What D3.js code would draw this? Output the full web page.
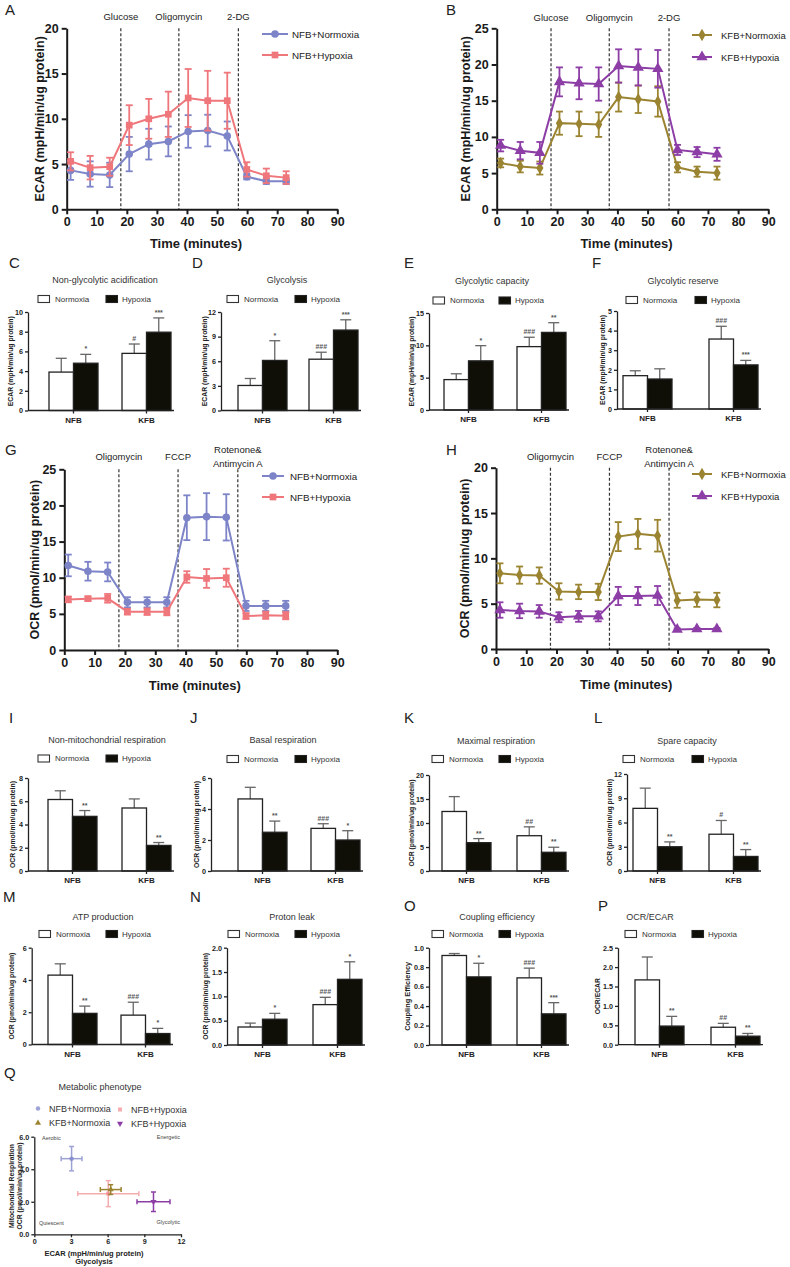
<!DOCTYPE html>
<html><head><meta charset="utf-8">
<script src="https://cdn.jsdelivr.net/npm/d3@7"></script>
<style>
body{margin:0;background:#fff;}
svg{display:block;font-family:"Liberation Sans",Arial,Helvetica,sans-serif;}
</style></head><body>
<svg id="fig" width="790" height="1267"></svg>
<script>
// ================= DATA =================
const timePoints = [1.3, 7.8, 14.3, 20.8, 27.3, 33.8, 40.4, 46.9, 53.4, 59.9, 66.4, 73.0];
const timeTicks = [0, 10, 20, 30, 40, 50, 60, 70, 80, 90];
const ecarInjections = ["Glucose", "Oligomycin", "2-DG"];
const ecarInjectionTimes = [18, 37.3, 57.1];
const ocrInjections = ["Oligomycin", "FCCP", "Rotenone&\nAntimycin A"];
const ocrInjectionTimes = [18, 37.5, 57.2];

const ecarNfbNormoxia = [4.3, 3.9, 3.8, 6.1, 7.2, 7.5, 8.6, 8.7, 8.1, 3.6, 3.1, 3.1];
const ecarNfbNormoxiaErr = [1.05, 1.4, 1.35, 1.9, 1.7, 1.65, 1.8, 1.75, 1.6, 0.3, 0.3, 0.3];
const ecarNfbHypoxia = [5.3, 4.6, 4.7, 9.3, 10.0, 10.5, 12.3, 12.0, 12.0, 4.4, 3.7, 3.5];
const ecarNfbHypoxiaErr = [1.0, 1.3, 1.0, 2.2, 2.2, 2.5, 3.2, 3.3, 3.1, 0.8, 0.8, 0.7];
const ecarKfbNormoxia = [6.4, 5.9, 5.7, 11.9, 11.8, 11.7, 15.5, 15.2, 14.9, 5.8, 5.2, 5.0];
const ecarKfbNormoxiaErr = [0.6, 0.8, 0.9, 1.6, 1.7, 1.7, 2.0, 1.9, 2.1, 0.7, 0.7, 0.9];
const ecarKfbHypoxia = [8.8, 8.1, 7.8, 17.6, 17.4, 17.3, 19.8, 19.6, 19.4, 8.2, 7.9, 7.6];
const ecarKfbHypoxiaErr = [0.8, 1.2, 1.5, 2.0, 2.2, 2.3, 2.3, 2.5, 2.6, 0.7, 0.7, 0.9];

const ocrNfbNormoxia = [11.7, 10.9, 10.8, 6.6, 6.6, 6.6, 18.3, 18.45, 18.35, 6.1, 6.1, 6.1];
const ocrNfbNormoxiaErr = [1.5, 1.3, 1.3, 0.7, 0.7, 0.7, 3.1, 3.25, 3.2, 0.7, 0.7, 0.7];
const ocrNfbHypoxia = [7.0, 7.1, 7.15, 5.3, 5.3, 5.3, 10.1, 9.9, 10.0, 4.7, 4.8, 4.75];
const ocrNfbHypoxiaErr = [0.4, 0.3, 0.6, 0.4, 0.45, 0.5, 0.8, 1.3, 1.25, 0.4, 0.5, 0.5];
const ocrKfbNormoxia = [8.35, 8.15, 8.1, 6.35, 6.3, 6.3, 12.4, 12.7, 12.5, 5.35, 5.45, 5.4];
const ocrKfbNormoxiaErr = [1.1, 0.95, 0.9, 0.9, 0.8, 0.9, 1.6, 1.65, 1.75, 0.8, 0.8, 0.8];
const ocrKfbHypoxia = [4.3, 4.2, 4.15, 3.5, 3.6, 3.6, 5.85, 5.85, 5.9, 2.15, 2.2, 2.2];
const ocrKfbHypoxiaErr = [0.85, 0.8, 0.7, 0.55, 0.6, 0.55, 1.0, 1.0, 1.05, 0.12, 0.12, 0.12];

const barGroups = ["NFB", "KFB"];
const barConds = ["Normoxia", "Hypoxia"];

// C  Non-glycolytic acidification
const nonGlycoNorm = [3.9, 5.8], nonGlycoNormErr = [1.4, 0.95], nonGlycoNormSig = ["", "#"];
const nonGlycoHyp = [4.8, 7.95], nonGlycoHypErr = [0.9, 1.45], nonGlycoHypSig = ["*", "***"];
const nonGlycoTicks = [0, 2, 4, 6, 8, 10];
// D  Glycolysis
const glycoNorm = [3.05, 6.25], glycoNormErr = [0.85, 0.85], glycoNormSig = ["", "###"];
const glycoHyp = [6.1, 9.8], glycoHypErr = [2.4, 1.25], glycoHypSig = ["*", "***"];
const glycoTicks = [0, 3, 6, 9, 12];
// E  Glycolytic capacity
const capNorm = [4.7, 9.8], capNormErr = [0.9, 1.45], capNormSig = ["", "###"];
const capHyp = [7.6, 12.0], capHypErr = [2.35, 1.5], capHypSig = ["*", "**"];
const capTicks = [0, 5, 10, 15];
// F  Glycolytic reserve
const resNorm = [1.7, 3.57], resNormErr = [0.25, 0.65], resNormSig = ["", "###"];
const resHyp = [1.53, 2.25], resHypErr = [0.52, 0.23], resHypSig = ["", "***"];
const resTicks = [0, 1, 2, 3, 4, 5];
// I  Non-mitochondrial respiration
const nonMitoNorm = [6.15, 5.42], nonMitoNormErr = [0.75, 0.78], nonMitoNormSig = ["", ""];
const nonMitoHyp = [4.7, 2.2], nonMitoHypErr = [0.5, 0.25], nonMitoHypSig = ["**", "**"];
const nonMitoTicks = [0, 2, 4, 6, 8];
// J  Basal respiration
const basalNorm = [4.65, 2.75], basalNormErr = [0.75, 0.3], basalNormSig = ["", "###"];
const basalHyp = [2.5, 2.0], basalHypErr = [0.72, 0.6], basalHypSig = ["**", "*"];
const basalTicks = [0, 2, 4, 6];
// K  Maximal respiration
const maxNorm = [12.4, 7.35], maxNormErr = [3.1, 1.85], maxNormSig = ["", "##"];
const maxHyp = [5.9, 3.9], maxHypErr = [0.85, 1.05], maxHypSig = ["**", "**"];
const maxTicks = [0, 5, 10, 15, 20];
// L  Spare capacity
const spareNorm = [7.75, 4.55], spareNormErr = [2.5, 1.7], spareNormSig = ["", "#"];
const spareHyp = [3.0, 1.8], spareHypErr = [0.6, 0.85], spareHypSig = ["**", "**"];
const spareTicks = [0, 3, 6, 9, 12];
// M  ATP production
const atpNorm = [4.3, 1.82], atpNormErr = [0.7, 0.8], atpNormSig = ["", "###"];
const atpHyp = [1.93, 0.68], atpHypErr = [0.45, 0.32], atpHypSig = ["**", "*"];
const atpTicks = [0, 2, 4, 6];
// N  Proton leak
const leakNorm = [0.37, 0.83], leakNormErr = [0.08, 0.15], leakNormSig = ["", "###"];
const leakHyp = [0.53, 1.35], leakHypErr = [0.12, 0.36], leakHypSig = ["*", "*"];
const leakTicks = [0, 0.5, 1.0, 1.5, 2.0];
// O  Coupling efficiency
const coupNorm = [0.92, 0.69], coupNormErr = [0.02, 0.1], coupNormSig = ["", "###"];
const coupHyp = [0.70, 0.32], coupHypErr = [0.14, 0.115], coupHypSig = ["*", "***"];
const coupTicks = [0, 0.2, 0.4, 0.6, 0.8, 1.0];
// P  OCR/ECAR
const ratioNorm = [1.67, 0.45], ratioNormErr = [0.59, 0.1], ratioNormSig = ["", "##"];
const ratioHyp = [0.48, 0.22], ratioHypErr = [0.25, 0.07], ratioHypSig = ["**", "**"];
const ratioTicks = [0, 0.5, 1.0, 1.5, 2.0, 2.5];

// Q  Metabolic phenotype
const phenoNames = ["NFB+Normoxia", "NFB+Hypoxia", "KFB+Normoxia", "KFB+Hypoxia"];
const phenoEcar = [3.05, 6.05, 6.25, 9.75];
const phenoEcarErr = [0.85, 2.5, 0.85, 1.35];
const phenoOcr = [4.65, 2.5, 2.75, 2.0];
const phenoOcrErr = [0.75, 0.8, 0.3, 0.6];
const phenoXTicks = [0, 3, 6, 9, 12];
const phenoYTicks = [0, 2, 4, 6];

// ================= STYLE =================
const FONT = '"Liberation Sans", Arial, Helvetica, sans-serif';
const colNfbN = "#7d84c8", colNfbH = "#ef767b", colKfbN = "#9b8431", colKfbH = "#8d3ea6";
const AX = "#1a1a1a";

const svg = d3.select("#fig");

function txt(g, x, y, s, o = {}) {
  const t = g.append("text").attr("x", x).attr("y", y).text(s)
    .attr("font-size", o.size || 10).attr("font-weight", o.weight || "normal")
    .attr("text-anchor", o.anchor || "start").attr("fill", o.fill || "#222")
    .attr("font-family", FONT);
  if (o.baseline) t.attr("dominant-baseline", o.baseline);
  if (o.rotate) t.attr("transform", `rotate(-90,${x},${y})`);
  return t;
}

function styleAxis(a, size, sw, color) {
  a.attr("font-family", FONT);
  a.selectAll("path,line").attr("stroke", color || AX).attr("stroke-width", sw);
  a.selectAll("text").attr("font-size", size).attr("font-weight", "bold").attr("fill", color || AX);
}

// ================= LINE PANELS =================
function linePanel(L, seriesList, injNames, injTimes) {
  const g = svg.append("g");
  const x = d3.scaleLinear().domain([0, 90]).range(L.xr);
  const y = d3.scaleLinear().domain([0, L.yMax]).range(L.yr);

  txt(g, L.letter[0], L.letter[1], L.letterText, {size: 15, fill: "#222"});

  injTimes.forEach((t, i) => {
    g.append("line").attr("x1", x(t)).attr("x2", x(t)).attr("y1", y(L.yMax)).attr("y2", y(0))
      .attr("stroke", "#333").attr("stroke-width", 1.2).attr("stroke-dasharray", "3,2");
    const lines = injNames[i].split("\n");
    const y0 = lines.length === 1 ? L.injY : L.injY2;
    lines.forEach((s, j) => txt(g, x(t), y0 + j * 13.5, s, {size: 9.5, anchor: "middle", fill: "#222"}));
  });

  const ya = g.append("g").attr("transform", `translate(${L.xr[0]},0)`)
    .call(d3.axisLeft(y).tickValues(d3.range(0, L.yMax + 0.001, L.yStep)).tickSize(5).tickSizeOuter(0).tickPadding(3));
  const xa = g.append("g").attr("transform", `translate(0,${L.yr[0]})`)
    .call(d3.axisBottom(x).tickValues(timeTicks).tickSize(5).tickSizeOuter(0).tickPadding(3));
  styleAxis(ya, 12.5, 2);
  styleAxis(xa, 12.5, 2);

  txt(g, L.yTitleX, (L.yr[0] + L.yr[1]) / 2, L.yTitle, {size: 12.5, weight: "bold", anchor: "middle", baseline: "central", rotate: true, fill: AX});
  txt(g, (L.xr[0] + L.xr[1]) / 2 - 6, L.xTitleY, "Time (minutes)", {size: 13, weight: "bold", anchor: "middle", fill: AX});

  seriesList.forEach(s => {
    const pts = timePoints.map((t, i) => ({t, v: s.values[i], e: s.errs[i]}));
    const eb = g.append("g").attr("stroke", s.color).attr("stroke-width", 1.8);
    pts.forEach(p => {
      eb.append("line").attr("x1", x(p.t)).attr("x2", x(p.t)).attr("y1", y(p.v - p.e)).attr("y2", y(p.v + p.e));
      [p.v - p.e, p.v + p.e].forEach(v => eb.append("line")
        .attr("x1", x(p.t) - 3.5).attr("x2", x(p.t) + 3.5).attr("y1", y(v)).attr("y2", y(v)));
    });
    g.append("path").datum(pts).attr("d", d3.line().x(p => x(p.t)).y(p => y(p.v)))
      .attr("fill", "none").attr("stroke", s.color).attr("stroke-width", 2);
    g.selectAll(null).data(pts).enter().append("path")
      .attr("transform", p => `translate(${x(p.t)},${y(p.v)})`)
      .attr("d", d3.symbol().type(s.symbol).size(s.size)).attr("fill", s.color);
  });

  seriesList.forEach((s, i) => {
    const ly = L.legY[i];
    g.append("line").attr("x1", L.legX[0]).attr("x2", L.legX[1]).attr("y1", ly).attr("y2", ly)
      .attr("stroke", s.color).attr("stroke-width", 2);
    g.append("path").attr("transform", `translate(${(L.legX[0] + L.legX[1]) / 2},${ly})`)
      .attr("d", d3.symbol().type(s.symbol).size(s.size)).attr("fill", s.color);
    txt(g, L.legX[2], ly, s.name, {size: L.legSize || 9.8, baseline: "central", fill: "#222"});
  });
}

linePanel({letterText: "A", letter: [5, 15], xr: [66.7, 337.3], yr: [209.3, 28.3], yMax: 20, yStep: 5,
  yTitle: "ECAR (mpH/min/ug protein)", yTitleX: 40, xTitleY: 248, injY: 19.5,
  legX: [262, 288, 292], legY: [34, 55]},
  [{name: "NFB+Normoxia", values: ecarNfbNormoxia, errs: ecarNfbNormoxiaErr, color: colNfbN, symbol: d3.symbolCircle, size: 45},
   {name: "NFB+Hypoxia", values: ecarNfbHypoxia, errs: ecarNfbHypoxiaErr, color: colNfbH, symbol: d3.symbolSquare, size: 45}],
  ecarInjections, ecarInjectionTimes);

linePanel({letterText: "B", letter: [446, 15], xr: [496.7, 768.3], yr: [209.3, 28.3], yMax: 25, yStep: 5,
  yTitle: "ECAR (mpH/min/ug protein)", yTitleX: 466, xTitleY: 248, injY: 20.5,
  legX: [692, 712, 721], legY: [35, 57], legSize: 9.5},
  [{name: "KFB+Normoxia", values: ecarKfbNormoxia, errs: ecarKfbNormoxiaErr, color: colKfbN, symbol: d3.symbolDiamond, size: 45},
   {name: "KFB+Hypoxia", values: ecarKfbHypoxia, errs: ecarKfbHypoxiaErr, color: colKfbH, symbol: d3.symbolTriangle, size: 55}],
  ecarInjections, ecarInjectionTimes);

linePanel({letterText: "G", letter: [5, 455], xr: [64.3, 337.3], yr: [650, 469.3], yMax: 25, yStep: 5,
  yTitle: "OCR (pmol/min/ug protein)", yTitleX: 35, xTitleY: 690, injY: 460, injY2: 453,
  legX: [262, 284, 290], legY: [476, 497]},
  [{name: "NFB+Normoxia", values: ocrNfbNormoxia, errs: ocrNfbNormoxiaErr, color: colNfbN, symbol: d3.symbolCircle, size: 45},
   {name: "NFB+Hypoxia", values: ocrNfbHypoxia, errs: ocrNfbHypoxiaErr, color: colNfbH, symbol: d3.symbolSquare, size: 45}],
  ocrInjections, ocrInjectionTimes);

linePanel({letterText: "H", letter: [446, 455], xr: [496, 768.3], yr: [649, 467.7], yMax: 20, yStep: 5,
  yTitle: "OCR (pmol/min/ug protein)", yTitleX: 465, xTitleY: 689, injY: 460, injY2: 453,
  legX: [692, 712, 721], legY: [474, 496], legSize: 9.5},
  [{name: "KFB+Normoxia", values: ocrKfbNormoxia, errs: ocrKfbNormoxiaErr, color: colKfbN, symbol: d3.symbolDiamond, size: 45},
   {name: "KFB+Hypoxia", values: ocrKfbHypoxia, errs: ocrKfbHypoxiaErr, color: colKfbH, symbol: d3.symbolTriangle, size: 55}],
  ocrInjections, ocrInjectionTimes);

// ================= BAR PANELS =================
function barPanel(P, D) {
  const g = svg.append("g");
  const max = D.ticks[D.ticks.length - 1];
  const y = d3.scaleLinear().domain([0, max]).range([P.yBot, P.yTop]);
  const R = P.gx[1] - P.gx[0], bw = 49;
  const xg = d3.scaleBand().domain(barGroups).range(P.gx).paddingInner((R - 2 * bw) / (R - bw)).paddingOuter(0);
  const xc = d3.scaleBand().domain(barConds).range([0, xg.bandwidth()]);

  txt(g, P.letter[0], P.letter[1], P.letterText, {size: 15, fill: "#222"});
  txt(g, P.title[0], P.title[1], P.titleText, {size: 9, anchor: "middle", fill: "#333"});

  g.append("rect").attr("x", P.leg[0]).attr("y", P.legY - 3.5).attr("width", 11.5).attr("height", 7)
    .attr("fill", "#fff").attr("stroke", "#333").attr("stroke-width", 1.1);
  txt(g, P.leg[0] + 17, P.legY, "Normoxia", {size: 8, baseline: "central", fill: "#333"});
  g.append("rect").attr("x", P.leg[1]).attr("y", P.legY - 3.5).attr("width", 11.5).attr("height", 7)
    .attr("fill", "#0f0f08").attr("stroke", "#222").attr("stroke-width", 1.1);
  txt(g, P.leg[1] + 16, P.legY, "Hypoxia", {size: 8, baseline: "central", fill: "#333"});

  barGroups.forEach((grp, gi) => {
    barConds.forEach((cond, ci) => {
      const v = D.values[ci][gi], e = D.errs[ci][gi], sig = D.sigs[ci][gi];
      const x0 = xg(grp) + xc(cond), w = xc.bandwidth(), cx = x0 + w / 2;
      g.append("line").attr("x1", cx).attr("x2", cx).attr("y1", y(v)).attr("y2", y(v + e))
        .attr("stroke", "#666").attr("stroke-width", 1.3);
      g.append("line").attr("x1", cx - 5.5).attr("x2", cx + 5.5).attr("y1", y(v + e)).attr("y2", y(v + e))
        .attr("stroke", "#666").attr("stroke-width", 1.3);
      g.append("rect").attr("x", x0).attr("y", y(v)).attr("width", w).attr("height", y(0) - y(v))
        .attr("fill", ci ? "#0f0f08" : "#fff").attr("stroke", "#222").attr("stroke-width", 1.3);
      if (sig) txt(g, cx, y(v + e) - 3, sig, {size: 7, anchor: "middle", fill: "#555", weight: "bold"});
    });
  });

  const ya = g.append("g").attr("transform", `translate(${P.axisX},0)`)
    .call(d3.axisLeft(y).tickValues(D.ticks).tickSize(3).tickSizeOuter(0).tickPadding(2).tickFormat(D.fmt));
  styleAxis(ya, 7.2, 1.3, "#222");
  g.append("line").attr("x1", P.axisX).attr("x2", P.gx[1] + 3).attr("y1", P.yBot).attr("y2", P.yBot)
    .attr("stroke", "#222").attr("stroke-width", 1.3);
  barGroups.forEach(grp => {
    const cx = xg(grp) + xg.bandwidth() / 2;
    g.append("line").attr("x1", cx).attr("x2", cx).attr("y1", P.yBot).attr("y2", P.yBot + 3)
      .attr("stroke", "#222").attr("stroke-width", 1.3);
    txt(g, cx, P.yBot + 12, grp, {size: 8, weight: "bold", anchor: "middle", fill: "#222"});
  });
  txt(g, P.yTitleX, (P.yTop + P.yBot) / 2, P.yTitle, {size: P.yTitleSize || 6.8, weight: "bold", anchor: "middle", baseline: "central", rotate: true, fill: "#222"});
}

const fInt = d3.format("d"), f1 = d3.format(".1f");
const ECARU = "ECAR (mpH/min/ug protein)", OCRU = "OCR (pmol/min/ug protein)";

barPanel({letterText: "C", letter: [9, 268], title: [105, 283], titleText: "Non-glycolytic acidification",
  legY: 299, leg: [38, 106], axisX: 28, gx: [49, 171], yTop: 312, yBot: 410.5, yTitleX: 10.5, yTitle: ECARU},
  {values: [nonGlycoNorm, nonGlycoHyp], errs: [nonGlycoNormErr, nonGlycoHypErr], sigs: [nonGlycoNormSig, nonGlycoHypSig], ticks: nonGlycoTicks, fmt: fInt});
barPanel({letterText: "D", letter: [192, 268], title: [287, 283], titleText: "Glycolysis",
  legY: 299, leg: [227, 295], axisX: 221, gx: [238, 358], yTop: 312, yBot: 410.5, yTitleX: 204, yTitle: ECARU},
  {values: [glycoNorm, glycoHyp], errs: [glycoNormErr, glycoHypErr], sigs: [glycoNormSig, glycoHypSig], ticks: glycoTicks, fmt: fInt});
barPanel({letterText: "E", letter: [404, 268], title: [492, 284], titleText: "Glycolytic capacity",
  legY: 300.5, leg: [433, 499], axisX: 429, gx: [444, 566], yTop: 313, yBot: 410, yTitleX: 411.5, yTitle: ECARU},
  {values: [capNorm, capHyp], errs: [capNormErr, capHypErr], sigs: [capNormSig, capHypSig], ticks: capTicks, fmt: fInt});
barPanel({letterText: "F", letter: [592, 268], title: [683, 284], titleText: "Glycolytic reserve",
  legY: 300, leg: [626, 695], axisX: 617, gx: [623, 758], yTop: 311, yBot: 409, yTitleX: 602, yTitle: ECARU},
  {values: [resNorm, resHyp], errs: [resNormErr, resHypErr], sigs: [resNormSig, resHypSig], ticks: resTicks, fmt: fInt});

barPanel({letterText: "I", letter: [9, 723], title: [107, 743], titleText: "Non-mitochondrial respiration",
  legY: 758.5, leg: [38, 106], axisX: 28, gx: [48, 171], yTop: 778, yBot: 871, yTitleX: 12, yTitle: OCRU},
  {values: [nonMitoNorm, nonMitoHyp], errs: [nonMitoNormErr, nonMitoHypErr], sigs: [nonMitoNormSig, nonMitoHypSig], ticks: nonMitoTicks, fmt: fInt});
barPanel({letterText: "J", letter: [190, 723], title: [283, 743], titleText: "Basal respiration",
  legY: 759, leg: [227, 295], axisX: 211, gx: [238, 360], yTop: 778, yBot: 871, yTitleX: 196, yTitle: OCRU},
  {values: [basalNorm, basalHyp], errs: [basalNormErr, basalHypErr], sigs: [basalNormSig, basalHypSig], ticks: basalTicks, fmt: fInt});
barPanel({letterText: "K", letter: [404, 723], title: [496, 744], titleText: "Maximal respiration",
  legY: 759, leg: [432, 499], axisX: 429, gx: [442, 566], yTop: 775, yBot: 871, yTitleX: 411.5, yTitle: OCRU},
  {values: [maxNorm, maxHyp], errs: [maxNormErr, maxHypErr], sigs: [maxNormSig, maxHypSig], ticks: maxTicks, fmt: fInt});
barPanel({letterText: "L", letter: [594, 723], title: [687, 744], titleText: "Spare capacity",
  legY: 759, leg: [623, 692], axisX: 627, gx: [633, 758], yTop: 774, yBot: 871, yTitleX: 609.5, yTitle: OCRU},
  {values: [spareNorm, spareHyp], errs: [spareNormErr, spareHypErr], sigs: [spareNormSig, spareHypSig], ticks: spareTicks, fmt: fInt});

barPanel({letterText: "M", letter: [3, 902], title: [103, 920], titleText: "ATP production",
  legY: 934, leg: [39, 106], axisX: 31.7, gx: [48, 170], yTop: 947.7, yBot: 1044.5, yTitleX: 12, yTitle: OCRU},
  {values: [atpNorm, atpHyp], errs: [atpNormErr, atpHypErr], sigs: [atpNormSig, atpHypSig], ticks: atpTicks, fmt: fInt});
barPanel({letterText: "N", letter: [190, 902], title: [292, 920], titleText: "Proton leak",
  legY: 934, leg: [228, 295], axisX: 227, gx: [238, 362], yTop: 947.7, yBot: 1045, yTitleX: 206, yTitle: OCRU},
  {values: [leakNorm, leakHyp], errs: [leakNormErr, leakHypErr], sigs: [leakNormSig, leakHypSig], ticks: leakTicks, fmt: f1});
barPanel({letterText: "O", letter: [404, 911], title: [497, 920], titleText: "Coupling efficiency",
  legY: 934, leg: [432, 499], axisX: 429, gx: [442, 566], yTop: 947.7, yBot: 1045, yTitleX: 408, yTitleSize: 7.4, yTitle: "Coupling Efficiency"},
  {values: [coupNorm, coupHyp], errs: [coupNormErr, coupHypErr], sigs: [coupNormSig, coupHypSig], ticks: coupTicks, fmt: f1});
barPanel({letterText: "P", letter: [598, 911], title: [650, 920], titleText: "OCR/ECAR",
  legY: 934, leg: [625, 692], axisX: 618, gx: [635, 760], yTop: 947.7, yBot: 1044.7, yTitleX: 598, yTitle: "OCR/ECAR"},
  {values: [ratioNorm, ratioHyp], errs: [ratioNormErr, ratioHypErr], sigs: [ratioNormSig, ratioHypSig], ticks: ratioTicks, fmt: f1});

// ================= Q PANEL =================
(function () {
  const g = svg.append("g");
  const x = d3.scaleLinear().domain([0, 12]).range([34.3, 181]);
  const y = d3.scaleLinear().domain([0, 6]).range([1234.3, 1136.7]);
  const cols = [colNfbN, colNfbH, colKfbN, colKfbH];
  const syms = [d3.symbolCircle, d3.symbolSquare, d3.symbolTriangle, d3.symbolTriangle];
  const rots = [0, 0, 0, 180];
  const ops = [0.75, 0.6, 1, 1];

  txt(g, 4, 1078, "Q", {size: 15, fill: "#222"});
  txt(g, 100, 1090, "Metabolic phenotype", {size: 9, anchor: "middle", fill: "#333"});

  const legPos = [[38, 1108.5], [120, 1109.5], [38, 1123], [120, 1123.5]];
  phenoNames.forEach((n, i) => {
    g.append("path").attr("transform", `translate(${legPos[i][0]},${legPos[i][1]}) rotate(${rots[i]})`)
      .attr("d", d3.symbol().type(syms[i]).size(16)).attr("fill", cols[i]).attr("opacity", ops[i]);
    txt(g, legPos[i][0] + 11, legPos[i][1], n, {size: 9, baseline: "central", fill: "#333"});
  });

  phenoNames.forEach((n, i) => {
    const cx = x(phenoEcar[i]), cy = y(phenoOcr[i]);
    const eg = g.append("g").attr("stroke", cols[i]).attr("stroke-width", 1.5).attr("opacity", ops[i]);
    eg.append("line").attr("x1", x(phenoEcar[i] - phenoEcarErr[i])).attr("x2", x(phenoEcar[i] + phenoEcarErr[i])).attr("y1", cy).attr("y2", cy);
    eg.append("line").attr("x1", cx).attr("x2", cx).attr("y1", y(phenoOcr[i] - phenoOcrErr[i])).attr("y2", y(phenoOcr[i] + phenoOcrErr[i]));
    [phenoEcar[i] - phenoEcarErr[i], phenoEcar[i] + phenoEcarErr[i]].forEach(v =>
      eg.append("line").attr("x1", x(v)).attr("x2", x(v)).attr("y1", cy - 2.5).attr("y2", cy + 2.5));
    [phenoOcr[i] - phenoOcrErr[i], phenoOcr[i] + phenoOcrErr[i]].forEach(v =>
      eg.append("line").attr("x1", cx - 2.5).attr("x2", cx + 2.5).attr("y1", y(v)).attr("y2", y(v)));
    g.append("path").attr("transform", `translate(${cx},${cy}) rotate(${rots[i]})`)
      .attr("d", d3.symbol().type(syms[i]).size(16)).attr("fill", cols[i]).attr("opacity", ops[i]);
  });

  const ya = g.append("g").attr("transform", `translate(${x(0)},0)`)
    .call(d3.axisLeft(y).tickValues(phenoYTicks).tickSize(3).tickSizeOuter(0).tickPadding(2));
  const xa = g.append("g").attr("transform", `translate(0,${y(0)})`)
    .call(d3.axisBottom(x).tickValues(phenoXTicks).tickSize(3).tickSizeOuter(0).tickPadding(2));
  styleAxis(ya, 7.2, 1.3, "#222");
  styleAxis(xa, 7.2, 1.3, "#222");

  txt(g, 42, 1140, "Aerobic", {size: 5.5, fill: "#444"});
  txt(g, 180, 1139, "Energetic", {size: 5.5, anchor: "end", fill: "#444"});
  txt(g, 39, 1225, "Quiescent", {size: 5.5, fill: "#444"});
  txt(g, 180, 1224, "Glycolytic", {size: 5.5, anchor: "end", fill: "#444"});

  txt(g, 94, 1255.5, "ECAR (mpH/min/ug protein)", {size: 7.5, weight: "bold", anchor: "middle", fill: "#222"});
  txt(g, 94, 1263.5, "Glycolysis", {size: 7.5, weight: "bold", anchor: "middle", fill: "#222"});
  txt(g, 11.5, 1186, "Mitochondrial Respiration", {size: 6.8, weight: "bold", anchor: "middle", baseline: "central", rotate: true, fill: "#222"});
  txt(g, 19.5, 1186, "OCR (pmol/min/ug protein)", {size: 6.8, weight: "bold", anchor: "middle", baseline: "central", rotate: true, fill: "#222"});
})();
</script>
</body></html>
